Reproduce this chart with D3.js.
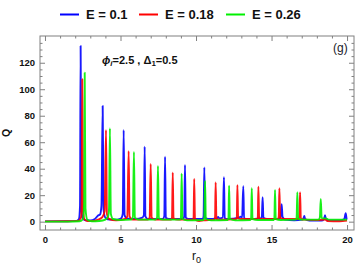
<!DOCTYPE html>
<html><head><meta charset="utf-8">
<script src="https://cdn.jsdelivr.net/npm/d3@7"></script>
<style>body{margin:0;background:#fff}svg{display:block}</style>
</head><body>
<svg id="c" width="360" height="268"></svg>
<script>
const legendLabels = ["E = 0.1", "E = 0.18", "E = 0.26"];
const seriesColors = ["#0000ff", "#ff0000", "#00f000"];
const xTicks = [0, 5, 10, 15, 20];
const yTicks = [0, 20, 40, 60, 80, 100, 120];

const blue = [[0,0.2],[1.5,0.3],[2.1,0.6],[2.25,2],[2.32,12],[2.36,132.6],[2.41,10],[2.5,2.5],[2.7,1],[3.0,1],[3.3,2],[3.5,4.5],[3.65,5.5],[3.74,12],[3.82,87.3],[3.88,9],[4.0,3],[4.3,1.5],[4.8,1.5],[5.05,2.5],[5.15,6],[5.21,69.2],[5.27,5],[5.4,2.5],[6.0,2],[6.45,3],[6.55,5],[6.6,56.6],[6.65,4],[6.8,2],[7.8,2],[7.9,4],[7.95,49],[8.0,3],[8.2,2],[9.15,2],[9.22,4],[9.27,42.8],[9.32,3],[9.5,2],[10.45,2],[10.5,4],[10.55,41],[10.6,3],[10.8,2],[11.4,2.5],[11.46,3.5],[11.55,2.5],[11.78,3],[11.85,33.5],[11.9,2.5],[12.1,2],[12.85,3],[12.95,3.8],[13.05,3],[13.13,26.8],[13.18,2.5],[13.4,2],[14.3,2.5],[14.36,4],[14.41,18.4],[14.46,3],[14.7,2],[15.5,2],[15.6,4],[15.67,13.1],[15.73,3.5],[15.9,1.5],[16.5,1],[17.05,1.5],[17.12,2.5],[17.17,4.3],[17.22,2],[17.5,0.8],[18.3,0.8],[18.48,2],[18.54,4.8],[18.6,2],[18.8,1],[19.6,1],[19.82,2],[19.91,6.3],[19.97,2],[20.0,1.5]];
const red = [[0,0.2],[1.5,0.3],[2.2,0.6],[2.38,3],[2.43,15],[2.47,107.5],[2.52,10],[2.6,2],[2.8,0.5],[3.2,0.5],[3.5,1.5],[3.8,3.5],[3.95,8],[4.04,69.2],[4.1,6],[4.25,2],[4.7,1],[5.3,2],[5.45,4],[5.54,53.3],[5.6,4],[5.8,1.5],[6.8,1.5],[6.93,3],[7.0,43.5],[7.06,3],[7.3,1.5],[8.35,1.5],[8.41,3],[8.46,37],[8.51,2.5],[8.8,1.5],[9.8,1.5],[9.84,3],[9.88,32.2],[9.93,2],[10.2,0.5],[10.5,1],[11.2,1.5],[11.26,3],[11.3,29.7],[11.35,2],[11.6,1.5],[12.65,2],[12.7,3],[12.74,27.6],[12.79,2.5],[13.0,2],[14.05,2],[14.09,3],[14.13,26.4],[14.18,2.5],[14.4,2],[15.43,2],[15.48,4],[15.52,25.2],[15.57,3],[15.8,2],[16.8,2],[16.85,4],[16.89,22.2],[16.94,2],[17.2,1.5],[18.0,1.2],[18.55,1.5],[18.7,0.5],[19.5,0.3],[20,0.8]];
const green = [[0,0],[1.5,0],[2.3,0.3],[2.52,2],[2.59,14],[2.63,112.5],[2.68,10],[2.8,1.5],[3.1,0.3],[3.6,0.5],[4.0,1.5],[4.18,4],[4.24,10],[4.3,70.5],[4.36,6],[4.5,2],[5.0,1.2],[5.7,1.5],[5.82,3.5],[5.89,52.6],[5.95,3],[6.2,1.5],[7.3,1.5],[7.42,3],[7.48,42],[7.54,2.5],[7.8,1.5],[8.95,1.5],[9.0,3],[9.05,36.3],[9.1,2],[9.4,1],[10.5,1.2],[10.55,3],[10.6,30.7],[10.65,2],[11.0,1],[12.1,1.3],[12.15,3],[12.19,27.1],[12.24,2],[12.6,1],[13.6,1.3],[13.65,3],[13.69,25.2],[13.74,2],[14.1,1.2],[15.15,1.3],[15.19,3],[15.23,23.9],[15.28,2],[15.6,1.3],[16.6,1.5],[16.66,3],[16.71,22.2],[16.76,2],[17.1,1.5],[18.1,1.5],[18.2,3],[18.26,17.1],[18.32,2.5],[18.6,2.5],[18.8,1.5],[19.5,1.5],[20,1.5]];
const series = [blue, red, green];

const L = 40, R = 354, T = 36, B = 230;
const svg = d3.select("#c");
const x = d3.scaleLinear().domain([-0.33, 20.46]).range([L, R]);
const y = d3.scaleLinear().domain([-6.3, 140.2]).range([B, T]);
const frameColor = "#808080";
const fontTick = "'Liberation Sans', Arial, sans-serif";

// data
const line = d3.line().x(d => x(d[0])).y(d => y(d[1])).curve(d3.curveMonotoneX);
const plot = svg.append("g");
series.forEach((s, i) => {
  plot.append("path").attr("d", line(s)).attr("fill", "none")
    .attr("stroke", seriesColors[i]).attr("stroke-width", 1.9)
    .attr("stroke-opacity", 0.9).attr("stroke-linejoin", "round");
});

// frame
svg.append("rect").attr("x", L).attr("y", T).attr("width", R - L).attr("height", B - T)
  .attr("fill", "none").attr("stroke", frameColor).attr("stroke-width", 1);

const xMinor = d3.range(0, 21, 1).filter(v => v % 5 !== 0);
const yMinor = d3.range(0, 141, 5).filter(v => v % 20 !== 0);

function styleAxis(g) {
  g.select(".domain").remove();
  g.selectAll("line").attr("stroke", frameColor);
  g.selectAll("text").attr("font-family", fontTick).attr("font-weight", "bold")
    .attr("font-size", 9.5).attr("fill", "#111");
}
// bottom
svg.append("g").attr("transform", `translate(0,${B})`)
  .call(d3.axisBottom(x).tickValues(xTicks).tickSize(-5).tickPadding(6).tickFormat(d3.format("d"))).call(styleAxis);
svg.append("g").attr("transform", `translate(0,${B})`)
  .call(d3.axisBottom(x).tickValues(xMinor).tickSize(-2.5).tickFormat("")).call(styleAxis);
// top
svg.append("g").attr("transform", `translate(0,${T})`)
  .call(d3.axisTop(x).tickValues(xTicks).tickSize(-5).tickFormat("")).call(styleAxis);
svg.append("g").attr("transform", `translate(0,${T})`)
  .call(d3.axisTop(x).tickValues(xMinor).tickSize(-2.5).tickFormat("")).call(styleAxis);
// left
svg.append("g").attr("transform", `translate(${L},0)`)
  .call(d3.axisLeft(y).tickValues(yTicks).tickSize(-5).tickPadding(5).tickFormat(d3.format("d"))).call(styleAxis);
svg.append("g").attr("transform", `translate(${L},0)`)
  .call(d3.axisLeft(y).tickValues(yMinor).tickSize(-2.5).tickFormat("")).call(styleAxis);
// right
svg.append("g").attr("transform", `translate(${R},0)`)
  .call(d3.axisRight(y).tickValues(yTicks).tickSize(-5).tickFormat("")).call(styleAxis);
svg.append("g").attr("transform", `translate(${R},0)`)
  .call(d3.axisRight(y).tickValues(yMinor).tickSize(-2.5).tickFormat("")).call(styleAxis);

// axis labels
svg.append("text").attr("transform", "translate(10,133) rotate(-90)")
  .attr("text-anchor", "middle").attr("font-family", fontTick).attr("font-weight", "bold")
  .attr("font-size", 10.5).attr("fill", "#111").text("Q");
const xl = svg.append("text").attr("x", 192).attr("y", 260).attr("font-family", fontTick)
  .attr("font-size", 12).attr("fill", "#111");
xl.append("tspan").text("r");
xl.append("tspan").attr("font-size", 9).attr("dy", 3).text("0");

// annotations
svg.append("text").attr("x", 333).attr("y", 52).attr("font-family", fontTick)
  .attr("font-size", 12).attr("fill", "#1a1a2a").text("(g)");
const an = svg.append("text").attr("x", 102).attr("y", 63.5).attr("font-family", fontTick)
  .attr("font-weight", "bold").attr("font-size", 11).attr("fill", "#111");
an.append("tspan").attr("font-style", "italic").text("ϕ");
an.append("tspan").attr("font-style", "italic").attr("font-size", 8).attr("dy", 2.5).text("i");
an.append("tspan").attr("dy", -2.5).text("=2.5 , Δ");
an.append("tspan").attr("font-size", 8).attr("dy", 2.5).text("1");
an.append("tspan").attr("dy", -2.5).text("=0.5");

// legend
const legX = [60, 139, 226];
const leg = svg.append("g");
legendLabels.forEach((lab, i) => {
  leg.append("line").attr("x1", legX[i]).attr("x2", legX[i] + 19).attr("y1", 14.5).attr("y2", 14.5)
    .attr("stroke", seriesColors[i]).attr("stroke-width", 2);
  leg.append("text").attr("x", legX[i] + 26).attr("y", 19).attr("font-family", fontTick)
    .attr("font-weight", "bold").attr("font-size", 13).attr("fill", "#111").text(lab);
});
</script>
</body></html>
